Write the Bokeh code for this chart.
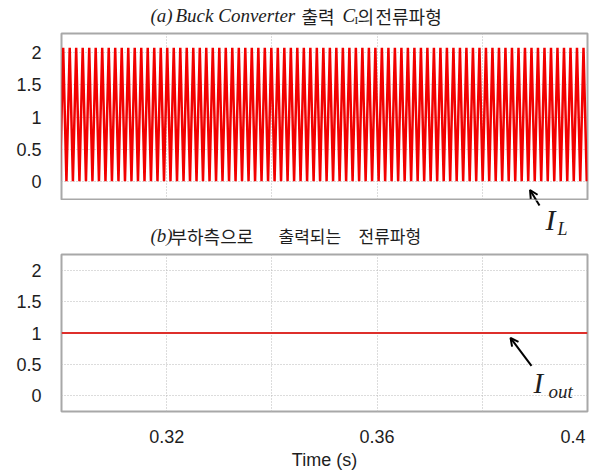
from bokeh.plotting import figure
from bokeh.models import FixedTicker, Label, Arrow, OpenHead, Grid, Range1d
from bokeh.layouts import column
from bokeh.embed import file_html
from bokeh.resources import INLINE

# ---------------- data ----------------
x_start, x_end = 0.30, 0.40
x_tick_values = [0.32, 0.36, 0.4]
x_tick_labels = ["0.32", "0.36", "0.4"]
x_grid_values = [0.32, 0.34, 0.36, 0.38]
y_tick_values = [0, 0.5, 1, 1.5, 2]
y_tick_labels = ["0", "0.5", "1", "1.5", "2"]

# inductor current I_L: times (ms) of the peaks and valleys of the ripple
il_peak_ms = [
    300.32, 301.56, 302.79, 304.03, 305.27, 306.50, 307.74, 308.98, 310.21, 311.45,
    312.69, 313.92, 315.16, 316.39, 317.63, 318.87, 320.10, 321.34, 322.58, 323.81,
    325.05, 326.29, 327.52, 328.76, 330.00, 331.23, 332.47, 333.71, 334.94, 336.18,
    337.42, 338.65, 339.89, 341.12, 342.36, 343.60, 344.83, 346.07, 347.31, 348.54,
    349.78, 351.02, 352.25, 353.49, 354.73, 355.96, 357.20, 358.44, 359.67, 360.91,
    362.15, 363.38, 364.62, 365.85, 367.09, 368.33, 369.56, 370.80, 372.04, 373.27,
    374.51, 375.75, 376.98, 378.22, 379.46, 380.69, 381.93, 383.17, 384.40, 385.64,
    386.88, 388.11, 389.35, 390.58, 391.82, 393.06, 394.29, 395.53, 396.77, 398.00,
    399.24,
]
il_valley_ms = [
    299.70, 300.94, 302.17, 303.41, 304.65, 305.88, 307.12, 308.36, 309.59, 310.83,
    312.07, 313.30, 314.54, 315.78, 317.01, 318.25, 319.49, 320.72, 321.96, 323.20,
    324.43, 325.67, 326.90, 328.14, 329.38, 330.61, 331.85, 333.09, 334.32, 335.56,
    336.80, 338.03, 339.27, 340.51, 341.74, 342.98, 344.22, 345.45, 346.69, 347.93,
    349.16, 350.40, 351.63, 352.87, 354.11, 355.34, 356.58, 357.82, 359.05, 360.29,
    361.53, 362.76, 364.00, 365.24, 366.47, 367.71, 368.95, 370.18, 371.42, 372.66,
    373.89, 375.13, 376.36, 377.60, 378.84, 380.07, 381.31, 382.55, 383.78, 385.02,
    386.26, 387.49, 388.73, 389.97, 391.20, 392.44, 393.68, 394.91, 396.15, 397.39,
    398.62, 399.86,
]
il_peak_a = 2.07
il_valley_a = 0.01

# output current I_out
out_time_s = [0.30, 0.40]
out_current_a = [1.0, 1.0]

# build the I_L polyline from the read turning points
pts = sorted([(t, il_peak_a) for t in il_peak_ms] + [(t, il_valley_a) for t in il_valley_ms])
il_time_s = [t / 1000.0 for t, _ in pts]
il_current_a = [v for _, v in pts]

# ---------------- styling ----------------
SANS = "Liberation Sans"
SERIF = "Liberation Serif"
KR = "Noto Sans CJK KR"
GRID_COLOR = "#B8B8B8"
FRAME_COLOR = "#A8A8A8"
TEXT_COLOR = "#1E1E1E"

W = 595
Y1 = (-0.27, 2.29)
Y2 = (-0.26, 2.26)

# page geometry (pixels) of the two plot frames
A_TOP, A_BOT = 33, 199
B_TOP, B_BOT = 254, 416
F_LEFT, F_RIGHT = 61, 587


def fx(px):
    return x_start + (px - F_LEFT) / (F_RIGHT - F_LEFT) * (x_end - x_start)

def fy1(py):
    return Y1[1] - (py - A_TOP) / (A_BOT - A_TOP) * (Y1[1] - Y1[0])

def fy2(py):
    return Y2[1] - (py - B_TOP) / (B_BOT - B_TOP) * (Y2[1] - Y2[0])


def lab(p, x, y, text, font, size, style="normal", align="left", baseline="alphabetic"):
    p.add_layout(Label(x=x, y=y, text=text, text_font=font, text_font_size=size,
                       text_font_style=style, text_color=TEXT_COLOR, text_align=align,
                       text_baseline=baseline))


def strip(top, bottom):
    """A text strip; its frame has the panels' left/right edges and uses page pixels."""
    s = figure(width=W, height=bottom - top, output_backend="svg", toolbar_location=None,
               x_range=Range1d(F_LEFT, F_RIGHT), y_range=Range1d(bottom, top),
               x_axis_location=None, y_axis_location=None,
               min_border_left=F_LEFT, min_border_right=W - F_RIGHT,
               min_border_top=0, min_border_bottom=0)
    s.center = [r for r in s.center if not isinstance(r, Grid)]
    s.outline_line_color = None
    s.background_fill_color = "white"
    s.border_fill_color = "white"
    return s


def panel(top, bottom, frame_top, frame_bot, yr, x_axis):
    p = figure(width=W, height=bottom - top, output_backend="svg", toolbar_location=None,
               x_range=Range1d(x_start, x_end), y_range=Range1d(*yr),
               x_axis_location=x_axis, min_border_left=F_LEFT, min_border_right=W - F_RIGHT,
               min_border_top=frame_top - top, min_border_bottom=bottom - frame_bot)
    p.center = [r for r in p.center if not isinstance(r, Grid)]
    p.add_layout(Grid(dimension=0, ticker=FixedTicker(ticks=x_grid_values),
                      grid_line_color=GRID_COLOR, grid_line_dash="1 2", grid_line_width=1))
    p.add_layout(Grid(dimension=1, ticker=FixedTicker(ticks=y_tick_values),
                      grid_line_color=GRID_COLOR, grid_line_dash="1 2", grid_line_width=1))
    p.outline_line_color = FRAME_COLOR
    p.outline_line_width = 2
    p.background_fill_color = "white"
    p.border_fill_color = "white"
    ya = p.yaxis[0]
    ya.ticker = FixedTicker(ticks=y_tick_values)
    ya.major_label_overrides = {v: s for v, s in zip(y_tick_values, y_tick_labels)}
    ya.axis_line_color = None
    ya.major_tick_line_color = None
    ya.minor_tick_line_color = None
    ya.major_tick_out = 0
    ya.major_label_standoff = 20
    ya.major_label_text_font = SANS
    ya.major_label_text_font_size = "18px"
    ya.major_label_text_color = TEXT_COLOR
    return p


def arrow(p, x0, y0, x1, y1):
    p.add_layout(Arrow(end=OpenHead(size=8, line_width=2, line_color="black"),
                       x_start=x0, y_start=y0, x_end=x1, y_end=y1,
                       line_width=2, line_color="black"))


# ---------- title (a) strip: page y 0..32 ----------
s_top = strip(0, 32)
ba = 15
lab(s_top, 150, ba, "(a)", SERIF, "19px", "italic")
lab(s_top, 175, ba, "Buck Converter", SERIF, "19px", "italic")
lab(s_top, 301, ba, "출력", KR, "18px")
lab(s_top, 342, ba, "C", SERIF, "19px", "italic")
lab(s_top, 354, ba + 4, "I", SERIF, "11px")
lab(s_top, 357, ba, "의", KR, "18px")
lab(s_top, 375, ba, "전류파형", KR, "18px")

# ---------- panel (a): page y 32..200 ----------
p1 = panel(32, 200, A_TOP, A_BOT, Y1, None)
p1.line(il_time_s, il_current_a, line_color="#F20000", line_width=2.5)
arrow(p1, fx(539), fy1(205), fx(529.5), fy1(189.5))

# ---------- middle strip: page y 200..253 (I_L label and title (b)) ----------
s_mid = strip(200, 253)
arrow(s_mid, 539, 205, 529.5, 189.5)
lab(s_mid, 545, 219, "I", SERIF, "30px", "italic")
lab(s_mid, 557, 228, "L", SERIF, "18px", "italic")
bb = 235
lab(s_mid, 150, bb, "(b)", SERIF, "19px", "italic")
lab(s_mid, 170, bb, "부하측으로", KR, "18px")
lab(s_mid, 278, bb, "출력되는", KR, "17px")
lab(s_mid, 358, bb, "전류파형", KR, "17px")

# ---------- panel (b): page y 253..472 ----------
p2 = panel(253, 472, B_TOP, B_BOT, Y2, "below")
p2.line(out_time_s, out_current_a, line_color="#DE2F2B", line_width=2)

xa = p2.xaxis[0]
xa.ticker = FixedTicker(ticks=x_tick_values)
overrides = {v: s for v, s in zip(x_tick_values, x_tick_labels)}
# last label sits flush with the right edge of the frame
overrides[x_tick_values[-1]] = x_tick_labels[-1] + "\u00a0\u00a0"
xa.major_label_overrides = overrides
xa.axis_line_color = None
xa.major_tick_line_color = None
xa.minor_tick_line_color = None
xa.major_tick_out = 0
xa.major_label_standoff = 15
xa.major_label_text_font = SANS
xa.major_label_text_font_size = "18px"
xa.major_label_text_color = TEXT_COLOR
xa.axis_label = "Time (s)"
xa.axis_label_standoff = 0
xa.axis_label_text_font = SANS
xa.axis_label_text_font_size = "18px"
xa.axis_label_text_font_style = "normal"
xa.axis_label_text_color = TEXT_COLOR

lab(p2, fx(533), fy2(387), "I", SERIF, "29px", "italic")
lab(p2, fx(548), fy2(395), "out", SERIF, "19px", "italic")
arrow(p2, fx(531), fy2(369), fx(510), fy2(340))

layout = column(s_top, p1, s_mid, p2, spacing=0)
open("out.html", "w").write(file_html(layout, INLINE))
